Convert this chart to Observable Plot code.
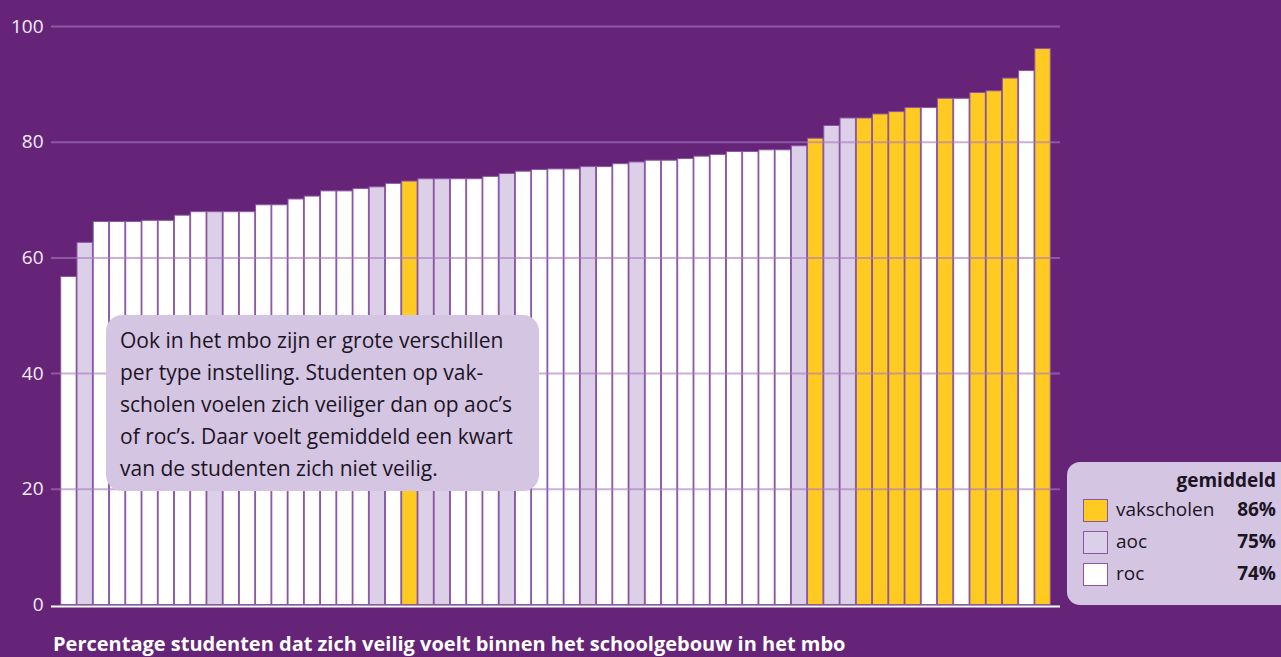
<!DOCTYPE html>
<html>
<head>
<meta charset="utf-8">
<script src="https://cdn.jsdelivr.net/npm/d3@7"></script>
<script src="https://cdn.jsdelivr.net/npm/@observablehq/plot@0.6"></script>
<style>
  html, body { margin: 0; padding: 0; background: #662479; overflow: hidden; }
  #wrap { position: relative; width: 1281px; height: 657px; font-family: "Open Sans", sans-serif; }
  #chart svg { display: block; }
  .note { position: absolute; left: 106px; top: 315px; width: 433px; height: 176px; box-sizing: border-box;
    background: #d4c5e2; border-radius: 16px; padding: 9px 0 0 14px; color: #1c1424; font-size: 21px; line-height: 32px; white-space: nowrap; }
  .legend { position: absolute; left: 1067px; top: 462px; width: 240px; height: 143px; background: #d4c5e2; border-radius: 13px; color: #1c1424; }
  .caption { position: absolute; left: 53px; top: 634px; color: #ffffff; font-weight: 700; font-size: 20px; line-height: 1; white-space: nowrap; }
  .lg { position: absolute; font-size: 19px; line-height: 1; white-space: nowrap; color: #1c1424; }
  .sw { position: absolute; width: 23px; height: 21px; border: 1.5px solid #8b57a3; }
</style>
</head>
<body>
<div id="wrap">
  <div id="chart"></div>
  <div class="note">Ook in het mbo zijn er grote verschillen<br>per type instelling. Studenten op vak-<br>scholen voelen zich veiliger dan op aoc’s<br>of roc’s. Daar voelt gemiddeld een kwart<br>van de studenten zich niet veilig.</div>
  <div class="legend"></div>
  <div id="legendItems"></div>
  <div class="caption">Percentage studenten dat zich veilig voelt binnen het schoolgebouw in het mbo</div>
</div>
<script>
// Percentage per institution (sorted, as in the chart)
const values = [56.7, 62.6, 66.2, 66.2, 66.2, 66.4, 66.4, 67.3, 67.9, 67.9,
  67.9, 67.9, 69.1, 69.1, 70.1, 70.6, 71.5, 71.5, 71.9, 72.2,
  72.8, 73.2, 73.6, 73.6, 73.6, 73.6, 74.0, 74.5, 74.9, 75.2,
  75.3, 75.3, 75.7, 75.7, 76.2, 76.5, 76.8, 76.8, 77.1, 77.5,
  77.8, 78.3, 78.3, 78.6, 78.6, 79.3, 80.6, 82.8, 84.1, 84.1,
  84.8, 85.2, 85.9, 85.9, 87.5, 87.5, 88.5, 88.8, 91.0, 92.3, 96.1];

// Type of institution per bar
const types = ["roc","aoc","roc","roc","roc","roc","roc","roc","roc","aoc",
  "roc","roc","roc","roc","roc","roc","roc","roc","roc","aoc",
  "roc","vakscholen","aoc","aoc","roc","roc","roc","aoc","roc","roc",
  "roc","roc","aoc","roc","roc","aoc","roc","roc","roc","roc",
  "roc","roc","roc","roc","roc","aoc","vakscholen","aoc","aoc","vakscholen",
  "vakscholen","vakscholen","vakscholen","roc","vakscholen","roc","vakscholen","vakscholen","vakscholen","roc","vakscholen"];

const categories = ["vakscholen", "aoc", "roc"];
const categoryColors = ["#ffcb22", "#dccfe8", "#ffffff"];
const averages = ["86%", "75%", "74%"];
const legendTitle = "gemiddeld";
const yTicks = [0, 20, 40, 60, 80, 100];
const gridTicks = [20, 40, 60, 80, 100];

const data = values.map((v, i) => ({i, value: v, type: types[i]}));

const chart = Plot.plot({
  width: 1281,
  height: 616,
  marginTop: 26,
  marginBottom: 11.5,
  marginLeft: 51,
  marginRight: 221,
  style: {background: "transparent", color: "#f3ecf6", fontFamily: "'Open Sans', sans-serif", fontSize: "19px"},
  x: {type: "band", domain: d3.range(values.length), paddingInner: 0.05, paddingOuter: 0.6, round: false, axis: null},
  y: {domain: [0, 100]},
  color: {domain: categories, range: categoryColors},
  marks: [
    Plot.barY(data, {x: "i", y: "value", fill: "type", stroke: "#8b57a3", strokeWidth: 1}),
    Plot.ruleY(gridTicks, {stroke: "#a67bbd", strokeOpacity: 0.6, strokeWidth: 2}),
    Plot.ruleY([0], {stroke: "#ffffff", strokeWidth: 2, dy: 1.5}),
    Plot.axisY(yTicks, {tickSize: 0, tickPadding: 8, label: null, fill: "#f3ecf6", fontSize: 19})
  ]
});
document.getElementById("chart").appendChild(chart);

// Legend
const li = document.getElementById("legendItems");
const head = document.createElement("div");
head.className = "lg";
head.style.cssText = "right:5px;top:471px;font-weight:700;";
head.textContent = legendTitle;
li.appendChild(head);
const rowCenters = [511, 543, 575];
categories.forEach((c, k) => {
  const sw = document.createElement("div");
  sw.className = "sw";
  sw.style.left = "1083px";
  sw.style.top = (rowCenters[k] - 12) + "px";
  sw.style.background = categoryColors[k];
  li.appendChild(sw);
  const lab = document.createElement("div");
  lab.className = "lg";
  lab.style.left = "1116px";
  lab.style.top = (rowCenters[k] - 11) + "px";
  lab.textContent = c;
  li.appendChild(lab);
  const val = document.createElement("div");
  val.className = "lg";
  val.style.right = "5px";
  val.style.top = (rowCenters[k] - 11) + "px";
  val.style.fontWeight = "700";
  val.textContent = averages[k];
  li.appendChild(val);
});
</script>
</body>
</html>
